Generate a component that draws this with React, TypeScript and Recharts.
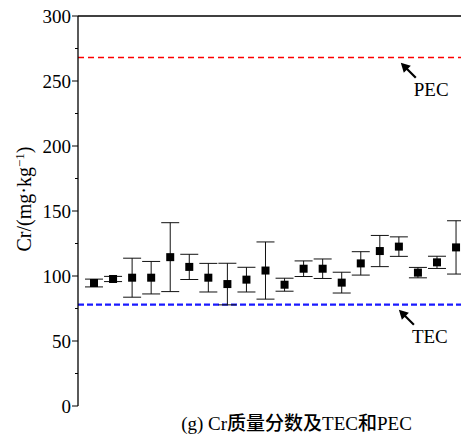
import React from 'react';
import {
  ComposedChart,
  Scatter,
  XAxis,
  YAxis,
  ErrorBar,
  ReferenceLine,
  ReferenceDot,
} from 'recharts';

const samples: number[] = [1, 2, 3, 4, 5, 6, 7, 8, 9, 10, 11, 12, 13, 14, 15, 16, 17, 18, 19, 20];
const crValues: number[] = [94.6, 97.7, 98.7, 98.7, 114.5, 107, 98.7, 93.8, 97.2, 104.2, 93.3, 105.6, 105.6, 94.9, 109.7, 119.2, 122.6, 102.6, 110.5, 122];
const crErrors: number[] = [3, 2, 15, 12.5, 26.5, 9.7, 11, 16, 9.5, 22, 5, 6, 7.5, 8, 9, 12, 7.5, 4, 4.7, 20.5];
const yTicks: number[] = [0, 25, 50, 75, 100, 125, 150, 175, 200, 225, 250, 275, 300];
const PEC = 268;
const TEC = 78;

const data = samples.map((s, i) => ({ x: s, value: crValues[i], err: crErrors[i] }));

const SERIF = "'Liberation Serif', 'Times New Roman', serif";
const CJK = "'Noto Sans CJK SC', sans-serif";

const YTick = (props: any) => {
  const { x, y, payload } = props;
  const major = payload.value % 50 === 0;
  return (
    <g>
      <line x1={x - (major ? 6 : 3)} x2={x} y1={y} y2={y} stroke="#000" strokeWidth={1} />
      {major && (
        <text
          x={x - 7}
          y={y}
          dy="0.35em"
          textAnchor="end"
          style={{ fontFamily: SERIF, fontSize: 19 }}
          fill="#000"
        >
          {payload.value}
        </text>
      )}
    </g>
  );
};

const Square = (props: any) => {
  const { cx, cy } = props;
  return <rect x={cx - 4} y={cy - 4} width={8} height={8} fill="#000" />;
};

const ArrowNote = (label: string) => (props: any) => {
  const { cx, cy } = props;
  return (
    <g>
      <line x1={cx + 4} y1={cy + 4} x2={cx + 15} y2={cy + 15} stroke="#000" strokeWidth={2.2} />
      <polygon points={`${cx},${cy} ${cx + 10},${cy + 3} ${cx + 3},${cy + 10}`} fill="#000" />
      <text x={cx + 13} y={cy + 33} style={{ fontFamily: SERIF, fontSize: 19 }} fill="#000">
        {label}
      </text>
    </g>
  );
};

const Caption = (props: any) => {
  const vb = props.viewBox || { x: 0, y: 0, width: 0, height: 0 };
  const cx = vb.x + vb.width / 2 + 27;
  return (
    <text x={cx} y={vb.y + 24} textAnchor="middle" style={{ fontSize: 19 }} fill="#000">
      <tspan style={{ fontFamily: SERIF }}>(g) Cr</tspan>
      <tspan style={{ fontFamily: CJK, fontWeight: 500 }}>质量分数及</tspan>
      <tspan style={{ fontFamily: SERIF }}>TEC</tspan>
      <tspan style={{ fontFamily: CJK, fontWeight: 500 }}>和</tspan>
      <tspan style={{ fontFamily: SERIF }}>PEC</tspan>
    </text>
  );
};

const YLabel = (props: any) => {
  const vb = props.viewBox || { x: 0, y: 0, width: 0, height: 0 };
  const cx = 24;
  const cy = vb.y + vb.height / 2 - 12;
  return (
    <text
      x={cx}
      y={cy}
      transform={`rotate(-90, ${cx}, ${cy})`}
      textAnchor="middle"
      dy="0.35em"
      style={{ fontFamily: SERIF, fontSize: 20 }}
      fill="#000"
    >
      Cr/(mg·kg
      <tspan style={{ fontSize: 13 }} dy={-7}>−1</tspan>
      <tspan dy={7}>)</tspan>
    </text>
  );
};

export default function App() {
  return (
    <div style={{ position: 'absolute', left: 0, top: 0, width: 461, height: 439, background: '#fff' }}>
      <ComposedChart width={461} height={439} data={data} margin={{ top: 16, right: 0, bottom: 0, left: 0 }}>
        <XAxis
          dataKey="x"
          type="number"
          domain={[0.16, 20.26]}
          axisLine={false}
          tickLine={false}
          tick={false}
          height={33}
          label={{ content: Caption }}
        />
        <YAxis
          dataKey="value"
          type="number"
          domain={[0, 300]}
          ticks={yTicks}
          interval={0}
          width={78}
          tickSize={0}
          tickMargin={0}
          tickLine={false}
          tick={YTick}
          axisLine={{ stroke: '#000', strokeWidth: 1.3 }}
          label={{ content: YLabel }}
        />
        <ReferenceLine y={300} stroke="#000" strokeWidth={1.5} />
        <ReferenceLine y={PEC} stroke="#ff0000" strokeWidth={1.5} strokeDasharray="6 4" />
        <ReferenceLine y={TEC} stroke="#1a1aff" strokeWidth={2.2} strokeDasharray="6 3" />
        <Scatter data={data} dataKey="value" shape={Square} isAnimationActive={false}>
          <ErrorBar dataKey="err" direction="y" width={9} stroke="#111" strokeWidth={1} />
        </Scatter>
        <ReferenceDot x={17.1} y={264} r={0} shape={ArrowNote('PEC')} />
        <ReferenceDot x={17.0} y={74} r={0} shape={ArrowNote('TEC')} />
      </ComposedChart>
    </div>
  );
}
